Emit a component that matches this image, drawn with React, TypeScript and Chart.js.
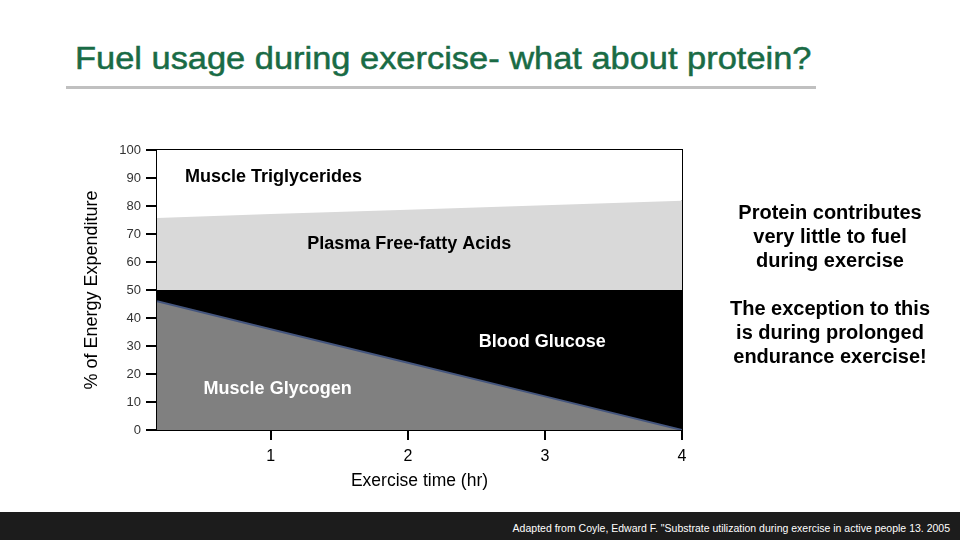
import React, { useEffect, useRef } from "react";
import { Chart, registerables } from "chart.js";

Chart.register(...registerables);

// ---- data ----
const timeHours = [0.17, 1, 2, 3, 4];
const muscleGlycogen = [46, 36, 24, 12, 0];
const bloodGlucose = [4, 14, 26, 38, 50];
const plasmaFFA = [25.7, 27.1, 28.7, 30.3, 31.9];
const muscleTriglycerides = [24.3, 22.9, 21.3, 19.7, 18.1];
const xTickValues = [1, 2, 3, 4];
const yTickStep = 10;

const seriesNames = ["Muscle Glycogen", "Blood Glucose", "Plasma Free-fatty Acids", "Muscle Triglycerides"];
// label anchor positions in data units (x hours, y %)
const labelX = [1.05, 2.98, 2.01, 1.02];
const labelY = [14.6, 31.5, 66.4, 90.4];
const labelColors = ["#ffffff", "#ffffff", "#000000", "#000000"];

const FONT = "Arial, 'Liberation Sans', sans-serif";

function toPoints(values: number[]) {
  return values.map((v, i) => ({ x: timeHours[i], y: v }));
}

const framePlugin = {
  id: "frame",
  beforeDatasetsDraw(chart: any) {
    const { ctx, chartArea } = chart;
    ctx.save();
    ctx.strokeStyle = "#000";
    ctx.lineWidth = 2;
    ctx.beginPath();
    ctx.moveTo(chartArea.left, chartArea.top);
    ctx.lineTo(chartArea.right, chartArea.top);
    ctx.lineTo(chartArea.right, chartArea.bottom);
    ctx.stroke();
    ctx.restore();
  },
};

const labelPlugin = {
  id: "areaLabels",
  afterDatasetsDraw(chart: any) {
    const { ctx } = chart;
    const xs = chart.scales.x;
    const ys = chart.scales.y;
    ctx.save();
    ctx.font = `bold 18px ${FONT}`;
    ctx.textAlign = "center";
    ctx.textBaseline = "middle";
    seriesNames.forEach((name, i) => {
      ctx.fillStyle = labelColors[i];
      ctx.fillText(name, xs.getPixelForValue(labelX[i]), ys.getPixelForValue(labelY[i]));
    });
    ctx.restore();
  },
};

function FuelChart() {
  const ref = useRef<HTMLCanvasElement | null>(null);
  useEffect(() => {
    if (!ref.current) return;
    const chart = new Chart(ref.current, {
      type: "line",
      data: {
        datasets: [
          {
            label: seriesNames[0],
            data: toPoints(muscleGlycogen),
            fill: "origin",
            backgroundColor: "#808080",
            borderColor: "#44557d",
            borderWidth: 2,
          },
          {
            label: seriesNames[1],
            data: toPoints(bloodGlucose),
            fill: "-1",
            backgroundColor: "#000000",
            borderColor: "rgba(0,0,0,0)",
            borderWidth: 0,
          },
          {
            label: seriesNames[2],
            data: toPoints(plasmaFFA),
            fill: "-1",
            backgroundColor: "#d9d9d9",
            borderColor: "rgba(0,0,0,0)",
            borderWidth: 0,
          },
          {
            label: seriesNames[3],
            data: toPoints(muscleTriglycerides),
            fill: "-1",
            backgroundColor: "#ffffff",
            borderColor: "rgba(0,0,0,0)",
            borderWidth: 0,
          },
        ],
      },
      options: {
        animation: false,
        responsive: false,
        devicePixelRatio: 1,
        elements: { point: { radius: 0 }, line: { tension: 0 } },
        layout: { padding: { left: 78, right: 278, top: 150, bottom: 40 } },
        plugins: {
          legend: { display: false },
          tooltip: { enabled: false },
        },
        scales: {
          x: {
            type: "linear",
            min: timeHours[0],
            max: timeHours[timeHours.length - 1],
            afterBuildTicks: (scale: any) => {
              scale.ticks = xTickValues.map((v) => ({ value: v }));
            },
            afterFit: (scale: any) => {
              scale.height = 70;
            },
            grid: {
              drawOnChartArea: false,
              drawTicks: true,
              tickLength: 10,
              color: "#000",
              lineWidth: 2,
            },
            border: { display: true, color: "#000", width: 2 },
            ticks: {
              color: "#000",
              font: { family: FONT, size: 16 },
              padding: 7,
              autoSkip: false,
              maxRotation: 0,
              callback: (v: any) => String(v),
            },
            title: {
              display: true,
              text: "Exercise time (hr)",
              color: "#000",
              font: { family: FONT, size: 17.5 },
              padding: { top: 0, bottom: 8 },
            },
          },
          y: {
            stacked: true,
            min: 0,
            max: 100,
            afterFit: (scale: any) => {
              scale.width = 79;
            },
            grid: {
              drawOnChartArea: false,
              drawTicks: true,
              tickLength: 11,
              color: "#000",
              lineWidth: 2,
            },
            border: { display: true, color: "#000", width: 2 },
            ticks: {
              stepSize: yTickStep,
              color: "#333",
              font: { family: FONT, size: 13 },
              padding: 5,
            },
            title: {
              display: true,
              text: "% of Energy Expenditure",
              color: "#000",
              font: { family: FONT, size: 18 },
              padding: { top: 3, bottom: 0 },
            },
          },
        },
      },
      plugins: [framePlugin, labelPlugin],
    } as any);
    return () => chart.destroy();
  }, []);
  return (
    <canvas
      ref={ref}
      width={960}
      height={540}
      style={{ position: "absolute", left: 0, top: 0, width: 960, height: 540 }}
    />
  );
}

export default function App() {
  const sideText: React.CSSProperties = {
    position: "absolute",
    left: 700,
    width: 260,
    textAlign: "center",
    font: `bold 20px/24px ${FONT}`,
    color: "#000",
  };
  return (
    <div
      style={{
        position: "fixed",
        left: 0,
        top: 0,
        width: 960,
        height: 540,
        background: "#fff",
        overflow: "hidden",
        fontFamily: FONT,
      }}
    >
      <div
        style={{
          position: "absolute",
          left: 75,
          top: 43,
          font: `31px/31px ${FONT}`,
          color: "#196b45",
          whiteSpace: "nowrap",
          transform: "scaleX(1.11)",
          transformOrigin: "left top",
          WebkitTextStroke: "0.5px #196b45",
        }}
      >
        Fuel usage during exercise- what about protein?
      </div>
      <div style={{ position: "absolute", left: 66, top: 86, width: 750, height: 3, background: "#c0c0c0" }} />
      <FuelChart />
      <div style={{ ...sideText, top: 200 }}>
        Protein contributes
        <br />
        very little to fuel
        <br />
        during exercise
      </div>
      <div style={{ ...sideText, top: 296 }}>
        The exception to this
        <br />
        is during prolonged
        <br />
        endurance exercise!
      </div>
      <div
        style={{
          position: "absolute",
          left: 0,
          top: 512,
          width: 960,
          height: 28,
          background: "#1c1c1c",
        }}
      >
        <div
          style={{
            position: "absolute",
            right: 10,
            top: 11,
            font: `10.5px/11px ${FONT}`,
            color: "#fff",
            whiteSpace: "nowrap",
          }}
        >
          Adapted from Coyle, Edward F. "Substrate utilization during exercise in active people 13. 2005
        </div>
      </div>
    </div>
  );
}
